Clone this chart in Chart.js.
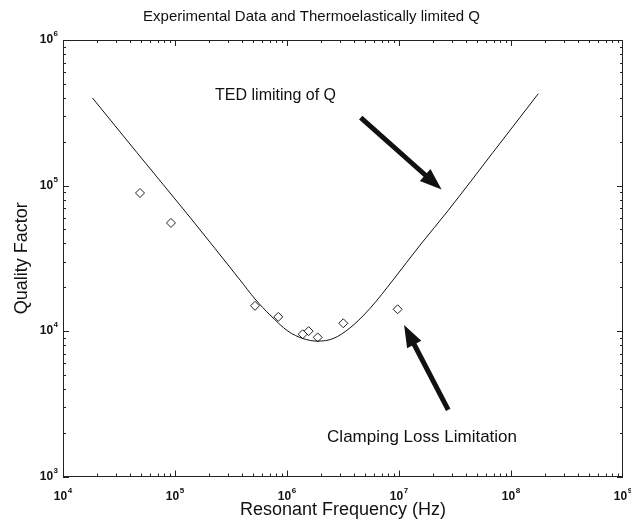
<!DOCTYPE html>
<html>
<head>
<meta charset="utf-8">
<script src="https://cdn.jsdelivr.net/npm/chart.js@4"></script>
<style>
  body { margin: 0; background: #fff; }
</style>
</head>
<body>
<canvas id="qChart" width="631" height="521"></canvas>
<script>
// measured resonators
const measuredFreq = [4.87e4, 9.2e4, 5.18e5, 8.36e5, 1.38e6, 1.56e6, 1.88e6, 3.18e6, 9.73e6];
const measuredQ = [8.88e4, 5.53e4, 1.49e4, 1.25e4, 9.5e3, 9.98e3, 9.04e3, 1.13e4, 1.41e4];

// thermoelastic damping limit
const tedFreq = [1.83e4, 4.55e4, 1.36e5, 3.81e5, 5.18e5, 7.05e5, 1.02e6, 1.39e6, 1.89e6, 2.58e6, 3.65e6, 5.51e6, 8.84e6, 1.54e7, 2.76e7, 6.91e7, 1.75e8];
const tedQ = [4.0e5, 1.69e5, 6.05e4, 2.24e4, 1.66e4, 1.29e4, 9.98e3, 8.87e3, 8.52e3, 8.87e3, 1.05e4, 1.43e4, 2.24e4, 3.89e4, 6.76e4, 1.69e5, 4.27e5];

const xTickValues = [1e4, 1e5, 1e6, 1e7, 1e8, 1e9];
const xTickLabels = ['10^4', '10^5', '10^6', '10^7', '10^8', '10^9'];
const yTickValues = [1e3, 1e4, 1e5, 1e6];
const yTickLabels = ['10^3', '10^4', '10^5', '10^6'];

// annotations (data coordinates)
const noteTexts = ['TED limiting of Q', 'Clamping Loss Limitation'];
const noteFreq = [2.28e5, 2.28e6];
const noteQ = [4.16e5, 1.87e3];
const noteSizes = [16, 17];
const arrowFromFreq = [4.55e6, 2.75e7];
const arrowFromQ = [2.93e5, 2.87e3];
const arrowToFreq = [2.4e7, 1.11e7];
const arrowToQ = [9.38e4, 1.1e4];

const FONT = "'Liberation Sans', Arial, Helvetica, sans-serif";

function drawArrow(ctx, x0, y0, x1, y1) {
  const ang = Math.atan2(y1 - y0, x1 - x0);
  const headLen = 22, headHalf = 8;
  const bx = x1 - Math.cos(ang) * headLen;
  const by = y1 - Math.sin(ang) * headLen;
  ctx.beginPath();
  ctx.lineWidth = 5;
  ctx.lineCap = 'butt';
  ctx.moveTo(x0, y0);
  ctx.lineTo(bx + Math.cos(ang) * 2, by + Math.sin(ang) * 2);
  ctx.stroke();
  ctx.beginPath();
  ctx.moveTo(x1, y1);
  ctx.lineTo(bx - Math.sin(ang) * headHalf, by + Math.cos(ang) * headHalf);
  ctx.lineTo(bx + Math.sin(ang) * headHalf, by - Math.cos(ang) * headHalf);
  ctx.closePath();
  ctx.fill();
}

// "10^5" -> 10 with a raised exponent
function drawPower(ctx, label, x, y, align) {
  const [base, exp] = label.split('^');
  ctx.font = 'bold 12px ' + FONT;
  const wb = ctx.measureText(base).width;
  ctx.font = 'bold 8px ' + FONT;
  const we = ctx.measureText(exp).width;
  const w = wb + we + 0.5;
  let left = align === 'right' ? x - w : x - w / 2;
  ctx.textAlign = 'left';
  ctx.textBaseline = 'alphabetic';
  ctx.font = 'bold 12px ' + FONT;
  ctx.fillText(base, left, y);
  ctx.font = 'bold 8px ' + FONT;
  ctx.fillText(exp, left + wb + 0.5, y - 7);
}

const notesPlugin = {
  id: 'notes',
  afterDatasetsDraw(chart) {
    const {ctx, scales: {x, y}} = chart;
    ctx.save();
    ctx.fillStyle = '#111';
    ctx.strokeStyle = '#111';
    ctx.textAlign = 'left';
    ctx.textBaseline = 'middle';
    noteTexts.forEach((t, i) => {
      ctx.font = noteSizes[i] + 'px ' + FONT;
      ctx.fillText(t, x.getPixelForValue(noteFreq[i]), y.getPixelForValue(noteQ[i]));
    });
    for (let i = 0; i < arrowFromFreq.length; i++) {
      drawArrow(ctx,
        x.getPixelForValue(arrowFromFreq[i]), y.getPixelForValue(arrowFromQ[i]),
        x.getPixelForValue(arrowToFreq[i]), y.getPixelForValue(arrowToQ[i]));
    }
    ctx.restore();
  }
};

// matlab style box with inward major/minor ticks on all sides, plus power labels
const framePlugin = {
  id: 'frame',
  afterDraw(chart) {
    const {ctx, chartArea: a, scales: {x, y}} = chart;
    ctx.save();
    ctx.strokeStyle = '#222';
    ctx.lineWidth = 1;
    ctx.strokeRect(Math.round(a.left) + 0.5, Math.round(a.top) + 0.5,
      Math.round(a.right - a.left) - 1, Math.round(a.bottom - a.top) - 1);
    ctx.beginPath();
    for (let e = 4; e < 9; e++) {
      for (let m = 1; m <= 9; m++) {
        const px = Math.round(x.getPixelForValue(m * Math.pow(10, e))) + 0.5;
        const len = m === 1 ? 6 : 3;
        ctx.moveTo(px, a.bottom); ctx.lineTo(px, a.bottom - len);
        ctx.moveTo(px, a.top); ctx.lineTo(px, a.top + len);
      }
    }
    for (let e = 3; e < 6; e++) {
      for (let m = 1; m <= 9; m++) {
        const py = Math.round(y.getPixelForValue(m * Math.pow(10, e))) + 0.5;
        const len = m === 1 ? 6 : 3;
        ctx.moveTo(a.left, py); ctx.lineTo(a.left + len, py);
        ctx.moveTo(a.right, py); ctx.lineTo(a.right - len, py);
      }
    }
    ctx.stroke();

    ctx.fillStyle = '#111';
    xTickValues.forEach((v, i) => drawPower(ctx, xTickLabels[i], x.getPixelForValue(v), a.bottom + 23, 'center'));
    yTickValues.forEach((v, i) => drawPower(ctx, yTickLabels[i], a.left - 5, y.getPixelForValue(v) + 3, 'right'));
    ctx.restore();
  }
};

new Chart(document.getElementById('qChart'), {
  type: 'scatter',
  data: {
    datasets: [
      {
        label: 'TED limit',
        type: 'line',
        data: tedFreq.map((f, i) => ({x: f, y: tedQ[i]})),
        borderColor: '#111',
        borderWidth: 1,
        pointRadius: 0,
        cubicInterpolationMode: 'monotone',
        fill: false
      },
      {
        label: 'Measured',
        data: measuredFreq.map((f, i) => ({x: f, y: measuredQ[i]})),
        pointStyle: 'rectRot',
        pointRadius: 4.5,
        pointBackgroundColor: '#fff',
        pointBorderColor: '#222',
        pointBorderWidth: 1
      }
    ]
  },
  options: {
    responsive: false,
    devicePixelRatio: 1,
    animation: false,
    layout: { padding: { left: 0, right: 8, top: 0, bottom: 0 } },
    plugins: {
      legend: { display: false },
      tooltip: { enabled: false },
      title: {
        display: true,
        text: 'Experimental Data and Thermoelastically limited Q',
        color: '#111',
        font: { family: FONT, size: 15, weight: 'normal' },
        padding: { top: 8, bottom: 14 }
      }
    },
    scales: {
      x: {
        type: 'logarithmic',
        min: 1e4,
        max: 1e9,
        grid: { display: false },
        border: { display: false },
        afterBuildTicks: s => { s.ticks = xTickValues.map(v => ({value: v})); },
        afterFit: s => { s.height = 44.5; s.paddingLeft = 0; s.paddingRight = 0; },
        ticks: { display: false },
        title: {
          display: true,
          text: 'Resonant Frequency (Hz)',
          color: '#111',
          font: { family: FONT, size: 18 },
          padding: { top: 0, bottom: 0.5 }
        }
      },
      y: {
        type: 'logarithmic',
        min: 1e3,
        max: 1e6,
        grid: { display: false },
        border: { display: false },
        afterBuildTicks: s => { s.ticks = yTickValues.map(v => ({value: v})); },
        afterFit: s => { s.width = 63; s.paddingTop = 0; s.paddingBottom = 0; },
        ticks: { display: false },
        title: {
          display: true,
          text: 'Quality Factor',
          color: '#111',
          font: { family: FONT, size: 18 },
          padding: { top: 11, bottom: 0 }
        }
      }
    }
  },
  plugins: [framePlugin, notesPlugin]
});
</script>
</body>
</html>
